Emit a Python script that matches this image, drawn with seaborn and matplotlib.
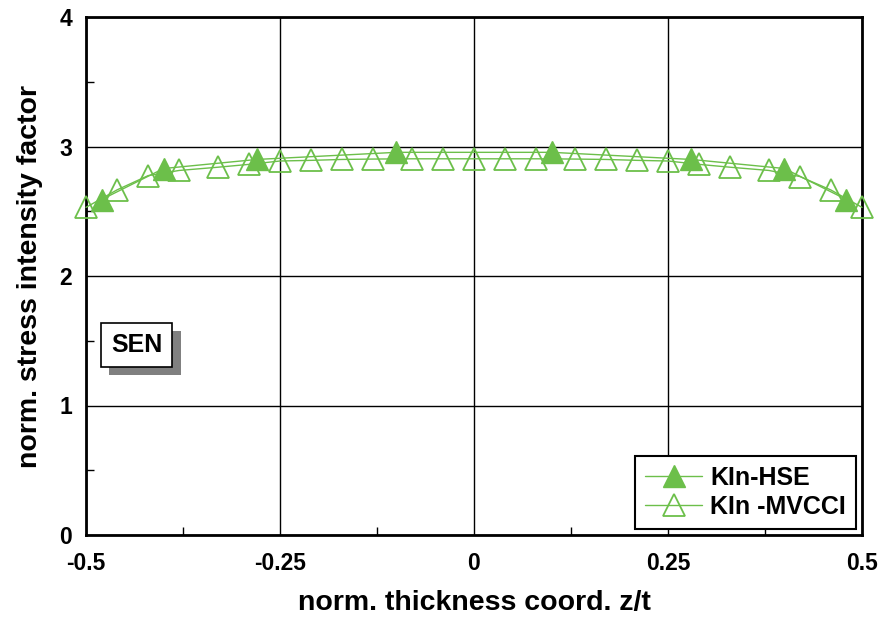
import matplotlib
matplotlib.use('Agg')
import matplotlib.pyplot as plt
import matplotlib.patheffects as pe
import seaborn as sns

# data
hse_x = [-0.48, -0.40, -0.28, -0.10, 0.10, 0.28, 0.40, 0.48]
hse_y = [2.59, 2.83, 2.90, 2.955, 2.955, 2.90, 2.83, 2.59]

mvcci_x = [-0.50, -0.46, -0.42, -0.38, -0.33, -0.29, -0.25, -0.21, -0.17, -0.13, -0.08, -0.04, 0.00,
           0.04, 0.08, 0.13, 0.17, 0.21, 0.25, 0.29, 0.33, 0.38, 0.42, 0.46, 0.50]
mvcci_y = [2.53, 2.665, 2.775, 2.815, 2.84, 2.862, 2.888, 2.893, 2.90, 2.903, 2.905, 2.905, 2.905,
           2.905, 2.905, 2.903, 2.90, 2.893, 2.888, 2.862, 2.84, 2.815, 2.768, 2.664, 2.53]

x_ticks = [-0.5, -0.25, 0, 0.25, 0.5]
x_tick_labels = ['-0.5', '-0.25', '0', '0.25', '0.5']
y_ticks = [0, 1, 2, 3, 4]
y_tick_labels = ['0', '1', '2', '3', '4']

green = '#6cbf4a'

sns.set_style('white')
plt.rcParams['font.family'] = ['Liberation Sans', 'DejaVu Sans']
plt.rcParams['font.weight'] = 'bold'
plt.rcParams['text.color'] = 'black'
plt.rcParams['axes.labelcolor'] = 'black'

fig, ax = plt.subplots(figsize=(8.81, 6.19), dpi=100)
fig.subplots_adjust(left=86 / 881, right=862 / 881, bottom=1 - 535 / 619, top=1 - 17 / 619)

# open triangles first so the filled ones sit on top
sns.lineplot(x=mvcci_x, y=mvcci_y, ax=ax, color=green, linewidth=1, marker='^', markersize=16,
             markerfacecolor='none', markeredgecolor=green, markeredgewidth=1.3,
             label='KIn -MVCCI', clip_on=False, zorder=3)
sns.lineplot(x=hse_x, y=hse_y, ax=ax, color=green, linewidth=1, marker='^', markersize=16,
             markerfacecolor=green, markeredgecolor=green, markeredgewidth=1,
             label='KIn-HSE', clip_on=False, zorder=4)

ax.set_xlim(-0.5, 0.5)
ax.set_ylim(0, 4)
ax.set_xticks(x_ticks)
ax.set_xticklabels(x_tick_labels)
ax.set_yticks(y_ticks)
ax.set_yticklabels(y_tick_labels)
ax.set_xticks([-0.375, -0.125, 0.125, 0.375], minor=True)
ax.set_yticks([0.5, 1.5, 2.5, 3.5], minor=True)
ax.tick_params(which='major', length=0, labelsize=16.5, colors='black')
ax.tick_params(axis='x', which='major', pad=12)
ax.tick_params(axis='y', which='major', pad=10)
ax.tick_params(which='minor', direction='in', length=6, width=1, color='black',
               bottom=True, left=True)
ax.grid(True, which='major', color='black', linewidth=1)

for s in ax.spines.values():
    s.set_color('black')
    s.set_linewidth(2)

ax.set_xlabel('norm. thickness coord. z/t', fontsize=20.5, fontweight='bold', labelpad=11)
ax.set_ylabel('norm. stress intensity factor', fontsize=20.5, fontweight='bold', labelpad=12)

handles, labels = ax.get_legend_handles_labels()
leg = ax.legend(handles[::-1], labels[::-1], loc='lower right', fontsize=18, frameon=True,
                fancybox=False, framealpha=1, edgecolor='black', handlelength=2.3,
                handletextpad=0.3, labelspacing=0.2, borderaxespad=0.25, borderpad=0.4,
                labelcolor='black')
leg.get_frame().set_linewidth(1.5)

t = ax.text(-0.4347, 1.471, 'SEN', ha='center', va='center', fontsize=18, fontweight='bold',
            color='black',
            bbox=dict(boxstyle='square,pad=0.4', fc='white', ec='black', lw=1.2), zorder=5)
t.get_bbox_patch().set_path_effects([
    pe.withSimplePatchShadow(offset=(6, -6), shadow_rgbFace='#808080', alpha=1.0)])

fig.savefig('out.png', dpi=100)
